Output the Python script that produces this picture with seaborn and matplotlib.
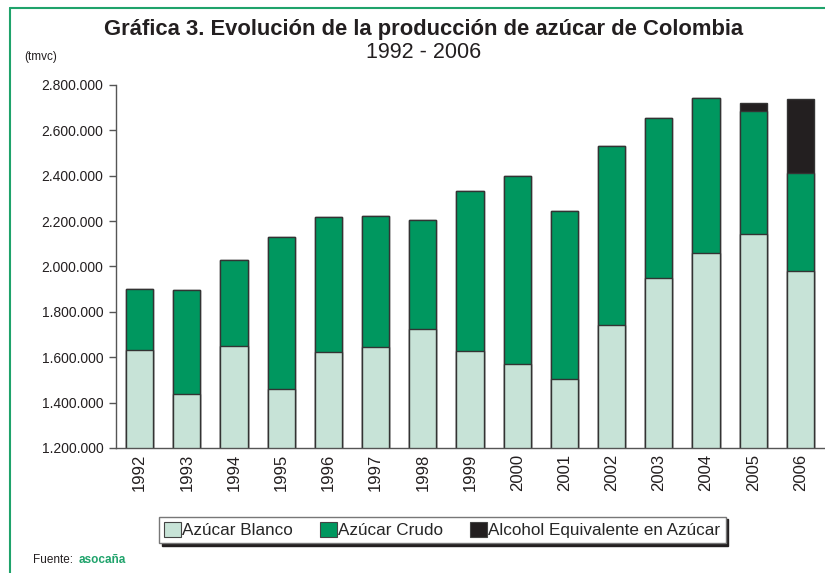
import numpy as np
import pandas as pd
import matplotlib
matplotlib.use("Agg")
import matplotlib.pyplot as plt
from matplotlib.patches import Patch
from matplotlib.lines import Line2D
from matplotlib.ticker import FuncFormatter
import seaborn as sns

# data (toneladas)
years = [1992, 1993, 1994, 1995, 1996, 1997, 1998, 1999,
         2000, 2001, 2002, 2003, 2004, 2005, 2006]
blanco = [1632000, 1439000, 1651000, 1460000, 1623000, 1645000, 1724000, 1628000,
          1570000, 1504000, 1742000, 1949000, 2059000, 2142000, 1981000]
crudo = [269000, 459000, 378000, 670000, 595000, 577000, 481000, 705000,
         829000, 741000, 789000, 706000, 684000, 543000, 430000]
alcohol = [0, 0, 0, 0, 0, 0, 0, 0, 0, 0, 0, 0, 0, 37000, 327000]
series = ["Azúcar Blanco", "Azúcar Crudo", "Alcohol Equivalente en Azúcar"]
colors = ["#C7E3D7", "#00975F", "#231F20"]
yticks = [1200000, 1400000, 1600000, 1800000, 2000000, 2200000, 2400000, 2600000, 2800000]

df = pd.DataFrame({"year": [str(y) for y in years],
                   "blanco": blanco, "crudo": crudo, "alcohol": alcohol})
df["s1"] = df["blanco"]
df["s2"] = df["s1"] + df["crudo"]
df["s3"] = df["s2"] + df["alcohol"]

sns.set_style("white")
plt.rcParams["font.family"] = ["Liberation Sans", "DejaVu Sans"]

fig = plt.figure(figsize=(8.25, 5.73), dpi=100)
ax = fig.add_axes([0.1406, 0.2182, 0.8582, 0.6335])

# overlapping cumulative bars -> stacked look
for col, c in zip(["s3", "s2", "s1"], colors[::-1]):
    sns.barplot(data=df, x="year", y=col, color=c, width=0.58,
                edgecolor="#333333", linewidth=1.0, saturation=1, ax=ax)

ax.set_ylim(1200000, 2800000)
ax.set_xlim(-0.5, len(years) - 0.5)
ax.set_yticks(yticks)
ax.yaxis.set_major_formatter(FuncFormatter(lambda v, p: f"{int(v):,}".replace(",", ".")))
ax.set_xlabel("")
ax.set_ylabel("")

ax.set_xticks(range(len(years)))
ax.set_xticklabels(df["year"], rotation=90)
ax.set_xticks(np.arange(-0.5, len(years)), minor=True)
ax.tick_params(axis="x", which="major", length=0, labelsize=12, pad=4, colors="#231F20")
ax.tick_params(axis="x", which="minor", length=5, width=1, color="#555555", direction="out")
ax.tick_params(axis="y", length=5, width=1, color="#555555", labelsize=10,
               labelcolor="#231F20", pad=4, left=True)

for s in ["top", "right"]:
    ax.spines[s].set_visible(False)
for s in ["left", "bottom"]:
    ax.spines[s].set_color("#555555")
    ax.spines[s].set_linewidth(1.0)

# titles
fig.text(0.513, 0.948, "Gráfica 3. Evolución de la producción de azúcar de Colombia",
         ha="center", va="center", fontsize=15.8, fontweight="bold", color="#231F20")
fig.text(0.513, 0.908, "1992 - 2006", ha="center", va="center", fontsize=15.5,
         color="#231F20")
fig.text(0.029, 0.901, "(tmvc)", ha="left", va="center", fontsize=8.5, color="#231F20")

# legend
handles = [Patch(facecolor=c, edgecolor="#444444", linewidth=0.8) for c in colors]
leg = fig.legend(handles, series, loc="center", bbox_to_anchor=(0.536, 0.075), ncol=3,
                 frameon=True, fancybox=False, fontsize=12.3, handlelength=1.0,
                 handleheight=1.0, handletextpad=0.05, columnspacing=1.6,
                 borderpad=0.3, shadow={"color": "#231F20", "alpha": 1})
leg.get_frame().set_edgecolor("#777777")
leg.get_frame().set_linewidth(1.0)

# source
fig.text(0.04, 0.022, "Fuente: ", ha="left", va="center", fontsize=8.5, color="#231F20")
fig.text(0.0955, 0.022, "asocaña", ha="left", va="center", fontsize=8.5,
         fontweight="bold", color="#1FA36B")

# page frame
fig.add_artist(Line2D([0.0125, 1.0], [0.986, 0.986], color="#1FA36B", lw=1.5))
fig.add_artist(Line2D([0.0125, 0.0125], [0.0, 0.986], color="#1FA36B", lw=1.5))

fig.savefig("out.png", dpi=100)
